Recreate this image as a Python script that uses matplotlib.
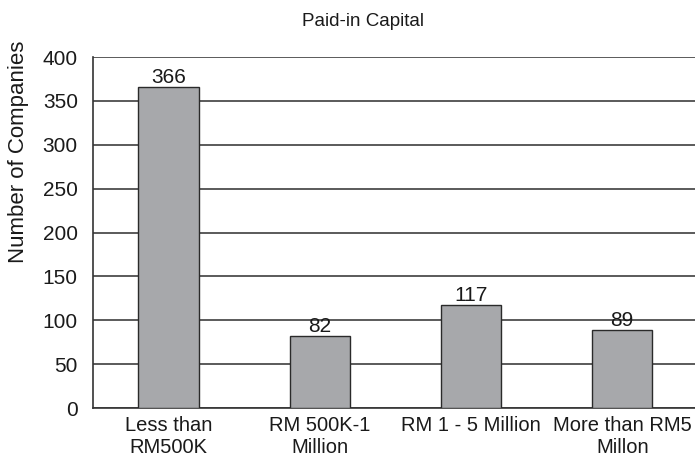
import matplotlib
matplotlib.use("Agg")
import matplotlib.pyplot as plt

categories = ["Less than\nRM500K", "RM 500K-1\nMillion", "RM 1 - 5 Million", "More than RM5\nMillon"]
companies = [366, 82, 117, 89]
y_ticks = [0, 50, 100, 150, 200, 250, 300, 350, 400]

plt.rcParams["font.family"] = ["Liberation Sans", "DejaVu Sans"]

fig = plt.figure(figsize=(6.95, 4.57), dpi=100)
ax = fig.add_axes([0.134, 0.107, 0.870, 0.768])

x = range(len(categories))
bars = ax.bar(x, companies, width=0.4, color="#a7a8ab", edgecolor="#2a2a2a",
              linewidth=1.0, zorder=3)
for b, v in zip(bars, companies):
    ax.annotate(str(v), xy=(b.get_x() + b.get_width() / 2, v), xytext=(0, 0),
                textcoords="offset points", ha="center", va="bottom",
                fontsize=15, color="#1a1a1a", zorder=4)

ax.set_xlim(-0.5, 3.5)
ax.set_ylim(0, 400)
ax.set_yticks(y_ticks)
ax.set_xticks(list(x))
ax.set_xticklabels(categories, fontsize=14.5, color="#1a1a1a", linespacing=1.2)
ax.tick_params(axis="y", length=0, labelsize=15, labelcolor="#1a1a1a", pad=11)
ax.tick_params(axis="x", length=0, pad=6)
ax.yaxis.grid(True, color="#2e2e2e", linewidth=1.1, zorder=0)
ax.set_axisbelow(True)

for side in ("top", "right"):
    ax.spines[side].set_visible(False)
for side in ("left", "bottom"):
    ax.spines[side].set_color("#333333")
    ax.spines[side].set_linewidth(1.2)

# axis title sits high on the left, not centred on the axes
fig.text(19 / 695, 1 - 152 / 457, "Number of Companies", rotation=90,
         ha="center", va="center", fontsize=16, color="#1a1a1a")
fig.text(363 / 695, 1 - 22 / 457, "Paid-in Capital", ha="center", va="center",
         fontsize=13.5, color="#1a1a1a")

fig.savefig("out.png", dpi=100, facecolor="white")
